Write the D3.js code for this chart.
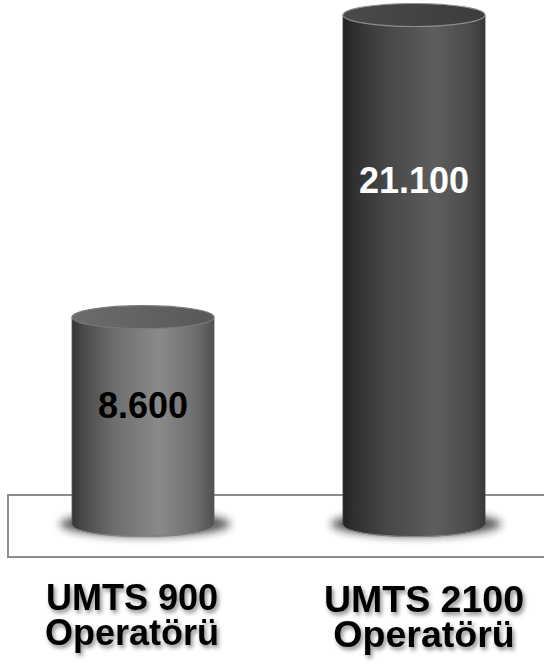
<!DOCTYPE html>
<html>
<head>
<meta charset="utf-8">
<script src="https://cdn.jsdelivr.net/npm/d3@7"></script>
<style>
  html, body { margin: 0; padding: 0; background: #fff; }
  svg { display: block; font-family: "Liberation Sans", Arial, sans-serif; }
</style>
</head>
<body>
<svg id="chart" width="544" height="668"></svg>
<script>
// ---- data ----
const categories = ["UMTS 900", "UMTS 2100"];
const categoryLine2 = ["Operatörü", "Operatörü"];
const values = [8600, 21100];
const valueLabels = ["8.600", "21.100"];

const W = 544, H = 668;
const svg = d3.select("#chart");
const defs = svg.append("defs");

// scales
const x = d3.scalePoint().domain(categories).range([143, 414]);
const xLabel = d3.scalePoint().domain(categories).range([132, 424]);
const y = d3.scaleLinear().domain([0, 21100]).range([525, 15]);
const rx = 71, ry = 11.5;

// gradients
function hGrad(id, stops) {
  const g = defs.append("linearGradient").attr("id", id)
    .attr("x1", "0%").attr("x2", "100%").attr("y1", "0%").attr("y2", "0%");
  stops.forEach(s => g.append("stop").attr("offset", s[0]).attr("stop-color", s[1]));
}
hGrad("body0", [["0%", "#353535"], ["8%", "#4a4a4a"], ["30%", "#6e6e6e"], ["62%", "#8a8a8a"], ["88%", "#6c6c6c"], ["100%", "#505050"]]);
hGrad("top0",  [["0%", "#6c6c6c"], ["100%", "#585858"]]);
hGrad("body1", [["0%", "#222222"], ["8%", "#303030"], ["30%", "#464646"], ["65%", "#5e5e5e"], ["90%", "#4a4a4a"], ["100%", "#383838"]]);
hGrad("top1",  [["0%", "#4a4a4a"], ["100%", "#3c3c3c"]]);

const blur = defs.append("filter").attr("id", "shadowBlur")
  .attr("x", "-50%").attr("y", "-100%").attr("width", "200%").attr("height", "300%");
blur.append("feGaussianBlur").attr("stdDeviation", 4.5);

const txtShadow = defs.append("filter").attr("id", "txtShadow")
  .attr("x", "-20%").attr("y", "-30%").attr("width", "140%").attr("height", "160%");
txtShadow.append("feDropShadow").attr("dx", 2).attr("dy", 3)
  .attr("stdDeviation", 2.2).attr("flood-color", "#000").attr("flood-opacity", 0.45);

// floor box
svg.append("rect")
  .attr("x", 8).attr("y", 495).attr("width", 560).attr("height", 62)
  .attr("fill", "#fff").attr("stroke", "#8c8c8c").attr("stroke-width", 2);

const g = svg.selectAll("g.cyl").data(categories).join("g").attr("class", "cyl");

// shadows
g.append("ellipse")
  .attr("cx", d => x(d) + 2)
  .attr("cy", y(0) - 1)
  .attr("rx", rx + 14)
  .attr("ry", ry + 1)
  .attr("fill", "#1a1a1a")
  .attr("opacity", 0.75)
  .attr("filter", "url(#shadowBlur)");

// bodies
g.append("path")
  .attr("d", (d, i) => {
    const cx = x(d), yt = y(values[i]), yb = y(0);
    return `M${cx - rx},${yt} V${yb} A${rx},${ry} 0 0 0 ${cx + rx},${yb} V${yt} Z`;
  })
  .attr("fill", (d, i) => `url(#body${i})`)
  .attr("stroke", (d, i) => i === 0 ? "#5a5a5a" : "#3a3a3a")
  .attr("stroke-width", 0.8);

// bottom rim highlight
g.append("path")
  .attr("d", d => {
    const cx = x(d), yb = y(0);
    return `M${cx - rx},${yb} A${rx},${ry} 0 0 0 ${cx + rx},${yb}`;
  })
  .attr("fill", "none").attr("stroke", "#8a8a8a").attr("stroke-width", 1);

// tops
g.append("ellipse")
  .attr("cx", d => x(d))
  .attr("cy", (d, i) => y(values[i]))
  .attr("rx", rx).attr("ry", ry)
  .attr("fill", (d, i) => `url(#top${i})`)
  .attr("stroke", (d, i) => i === 0 ? "#7a7a7a" : "#8e8e8e")
  .attr("stroke-width", 1.2);

// value labels
const labelOffset = [101, 178];
g.append("text")
  .attr("x", d => x(d))
  .attr("y", (d, i) => y(values[i]) + labelOffset[i])
  .attr("text-anchor", "middle")
  .attr("font-size", 36).attr("font-weight", "bold")
  .attr("fill", (d, i) => i === 0 ? "#000" : "#fff")
  .text((d, i) => valueLabels[i]);

// category labels
const labelSize = [36, 37.5];
const lab = svg.selectAll("text.cat").data(categories).join("text")
  .attr("class", "cat")
  .attr("text-anchor", "middle")
  .attr("font-weight", "bold")
  .attr("font-size", (d, i) => labelSize[i])
  .attr("fill", "#000")
  .attr("filter", "url(#txtShadow)");
lab.append("tspan").attr("x", d => xLabel(d)).attr("y", (d, i) => 610 + i * 2).text(d => d);
lab.append("tspan").attr("x", d => xLabel(d)).attr("y", (d, i) => 645 + i * 2).text((d, i) => categoryLine2[i]);
</script>
</body>
</html>
